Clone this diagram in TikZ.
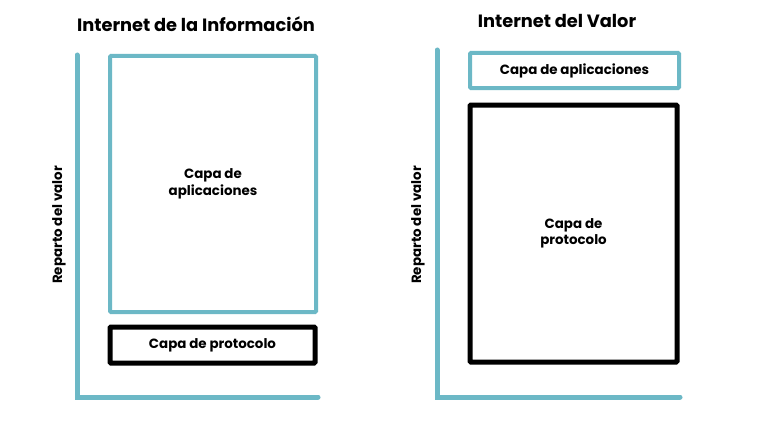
\documentclass[tikz,border=0pt]{standalone}
\usepackage{fontspec}
\setmainfont{Poppins}
\usepackage{tikz}
\usetikzlibrary{positioning}
\definecolor{capateal}{RGB}{108,184,198}
\tikzset{tealbox/.style={rectangle,draw=capateal,line width=4pt,rounded corners=1pt,align=center},
         blackbox/.style={rectangle,draw=black,line width=5pt,rounded corners=1pt,align=center},
         axisline/.style={draw=capateal,line width=5pt,line cap=round},
         ttl/.style={font=\fontsize{17.8}{21}\selectfont\bfseries},
         lbl/.style={font=\fontsize{13.4}{16.5}\selectfont\bfseries}}

\begin{document}
\begin{tikzpicture}[x=1pt,y=-1pt]
    \useasboundingbox[fill=white] (0,0) rectangle (770,420);

    % Internet de la Informacion
    \node[ttl] (t1) at (196,24) {Internet de la Información};
    \coordinate (a1) at (77,55);
    \coordinate (o1) at (77,397);
    \coordinate (b1) at (318,397);
    \draw[axisline] (a1) -- (o1) -- (b1);
    \node[lbl,rotate=90] (r1) at (59,225) {Reparto del valor};
    \node[tealbox,minimum width=206pt,minimum height=256pt,lbl] (ap1) at (213,184) {Capa de\\aplicaciones};
    \node[blackbox,minimum width=205pt,minimum height=36pt,lbl] (pr1) at (212.5,345) {Capa de protocolo};

    % Internet del Valor
    \node[ttl] (t2) at (557,21) {Internet del Valor};
    \coordinate (a2) at (437,50);
    \coordinate (o2) at (437,397);
    \coordinate (b2) at (680,397);
    \draw[axisline] (a2) -- (o2) -- (b2);
    \node[lbl,rotate=90] (r2) at (418,225) {Reparto del valor};
    \node[tealbox,minimum width=209pt,minimum height=35pt,lbl] (ap2) at (574.5,70.5) {Capa de aplicaciones};
    \node[blackbox,minimum width=207pt,minimum height=257pt,lbl] (pr2) at (573.5,233.5) {Capa de\\protocolo};
\end{tikzpicture}
\end{document}
